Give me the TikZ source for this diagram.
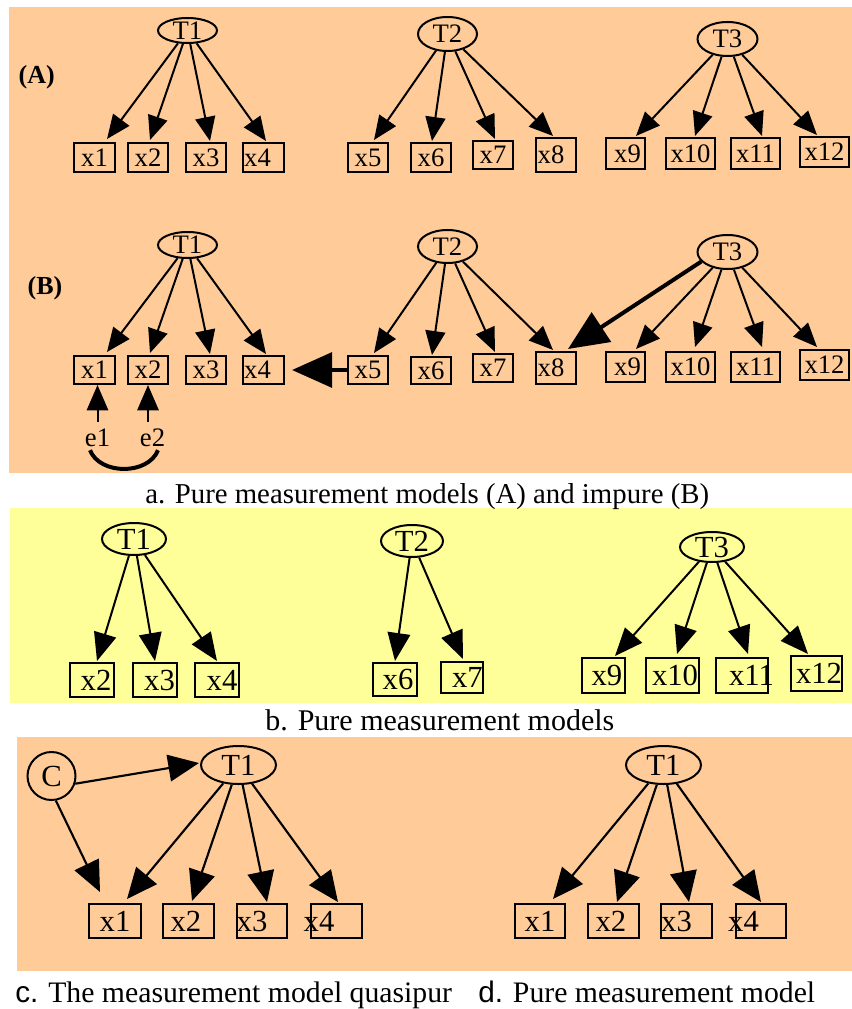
\documentclass[tikz,border=0pt]{standalone}
\usepackage{fontspec}
\setmainfont{Liberation Serif}
\newfontfamily\arialf{Liberation Sans}
\usetikzlibrary{arrows.meta,shapes.geometric,calc}
\newcommand\sh[2]{\makebox[0pt]{\kern#1\relax#2\kern-#1\relax}}
\definecolor{panelorange}{RGB}{255,204,153}
\definecolor{panelyellow}{RGB}{255,255,153}
\begin{document}
\begin{tikzpicture}[x=0.75pt,y=-0.75pt,
  lat/.style 2 args={draw, ellipse, line width=1.5pt, inner sep=0pt, minimum width=#1*0.75pt, minimum height=#2*0.75pt},
  obsbox/.style 2 args={draw, rectangle, line width=1.5pt, inner sep=0pt, minimum width=#1*0.75pt, minimum height=#2*0.75pt},
  fA/.style={font=\fontsize{20}{22}\selectfont},
  fB/.style={font=\fontsize{23}{25}\selectfont},
  fC/.style={font=\fontsize{23}{25}\selectfont},
  tagtext/.style={font=\fontsize{19.5}{20}\selectfont\bfseries, inner sep=0pt},
  captext/.style={anchor=base west, inner sep=0pt},
  arrA/.style={line width=1.5pt, -{Triangle[length=18pt,width=15pt]}},
  arrB/.style={line width=1.5pt, -{Triangle[length=21pt,width=17pt]}},
  arrC/.style={line width=1.6pt, -{Triangle[length=23pt,width=20pt]}},
  arrE/.style={line width=1.5pt, -{Triangle[length=19pt,width=16pt]}},
  arrT/.style={line width=3pt, -{Triangle[length=30pt,width=26pt]}},
]
\useasboundingbox (0,0) rectangle (852,1009);
\fill[panelorange] (9,7) rectangle (852,473);
\fill[panelyellow] (10,508) rectangle (852,703);
\fill[panelorange] (17,737) rectangle (852,971);

% ---------- Panel a, row A ----------
\begin{scope}[every node/.append style={fA}]
\node[tagtext] (tA) at (36.7,77) {(A)};
\node[lat={59}{25}] (T1a) at (187.5,30.5) {T1};
\node[lat={59}{34}] (T2a) at (447.5,34) {T2};
\node[lat={60}{34}] (T3a) at (727.5,39) {T3};
\node[obsbox={41}{29}] (x1a) at (94.5,157.5) {x1};
\node[obsbox={40}{29}] (x2a) at (148,157.5) {x2};
\node[obsbox={40}{29}] (x3a) at (206,157.5) {x3};
\node[obsbox={41}{29}] (x4a) at (263.5,157.5) {\sh{-4.5pt}{x4}};
\node[obsbox={40}{29}] (x5a) at (368,157.5) {x5};
\node[obsbox={40}{29}] (x6a) at (431,157.5) {x6};
\node[obsbox={40}{28}] (x7a) at (493,155) {x7};
\node[obsbox={40}{34}] (x8a) at (556,155) {\sh{-3.75pt}{x8}};
\node[obsbox={39}{31}] (x9a) at (625.5,153.5) {\sh{1.5pt}{x9}};
\node[obsbox={49}{31}] (x10a) at (690.5,153.5) {x10};
\node[obsbox={49}{31}] (x11a) at (755.5,153.5) {x11};
\node[obsbox={49}{30}] (x12a) at (824.5,152) {x12};
\end{scope}
\draw[arrA] (T1a) -- ($(x1a.north)+(12.5,-3)$);
\draw[arrA] (T1a) -- ($(x2a.north)+(2,-2)$);
\draw[arrA] (T1a) -- ($(x3a.north)+(4,-1)$);
\draw[arrA] (T1a) -- ($(x4a.north)+(2.5,-1)$);
\draw[arrA] (T2a) -- ($(x5a.north)+(6,-2)$);
\draw[arrA] (T2a) -- ($(x6a.north)+(1,-1)$);
\draw[arrA] (T2a) -- ($(x7a.north)+(2,-1)$);
\draw[arrA] (T2a) -- ($(x8a.north)+(-3,-1)$);
\draw[arrA] (T3a) -- ($(x9a.north)+(10.5,-1)$);
\draw[arrA] (T3a) -- ($(x10a.north)+(4.5,-1)$);
\draw[arrA] (T3a) -- ($(x11a.north)+(6.5,-1)$);
\draw[arrA] (T3a) -- ($(x12a.north)+(-7.5,-1)$);

% ---------- Panel a, row B ----------
\begin{scope}[every node/.append style={fA}]
\node[tagtext] (tB) at (45,288) {(B)};
\node[lat={59}{26}] (T1b) at (187.5,245) {T1};
\node[lat={59}{33}] (T2b) at (447.5,246.5) {T2};
\node[lat={60}{34}] (T3b) at (727.5,252) {T3};
\node[obsbox={41}{28}] (x1b) at (94.5,370) {x1};
\node[obsbox={40}{28}] (x2b) at (148,370) {x2};
\node[obsbox={40}{28}] (x3b) at (206,370) {x3};
\node[obsbox={41}{28}] (x4b) at (263.5,370) {\sh{-4.5pt}{x4}};
\node[obsbox={40}{28}] (x5b) at (368,370) {x5};
\node[obsbox={40}{27}] (x6b) at (431,370.5) {x6};
\node[obsbox={40}{28}] (x7b) at (493,368) {x7};
\node[obsbox={40}{32}] (x8b) at (556,368) {\sh{-3.75pt}{x8}};
\node[obsbox={39}{30}] (x9b) at (625.5,367) {\sh{1.5pt}{x9}};
\node[obsbox={49}{30}] (x10b) at (690.5,367) {x10};
\node[obsbox={49}{30}] (x11b) at (755.5,367) {x11};
\node[obsbox={49}{30}] (x12b) at (824.5,365) {x12};
\node[inner sep=0pt] (e1) at (97.5,438) {e1};
\node[inner sep=0pt] (e2) at (152.5,438) {e2};
\end{scope}
\draw[arrA] (T1b) -- ($(x1b.north)+(12.5,-3)$);
\draw[arrA] (T1b) -- ($(x2b.north)+(2,-2)$);
\draw[arrA] (T1b) -- ($(x3b.north)+(4,-1)$);
\draw[arrA] (T1b) -- ($(x4b.north)+(2.5,-1)$);
\draw[arrA] (T2b) -- ($(x5b.north)+(6,-2)$);
\draw[arrA] (T2b) -- ($(x6b.north)+(1,-1)$);
\draw[arrA] (T2b) -- ($(x7b.north)+(2,-1)$);
\draw[arrA] (T2b) -- ($(x8b.north)+(-3,-1)$);
\draw[arrT] (T3b.200) -- ($(x8b.north)+(12,-2)$);
\draw[arrA] (T3b) -- ($(x9b.north)+(10.5,-2)$);
\draw[arrA] (T3b) -- ($(x10b.north)+(4.5,-4)$);
\draw[arrA] (T3b) -- ($(x11b.north)+(6.5,-4)$);
\draw[arrA] (T3b) -- ($(x12b.north)+(-7.5,-2)$);
\draw[arrT] (x5b.west) -- ($(x4b.east)+(7,0)$);
\draw[arrE] ($(e1.north)+(0,-7)$) -- ($(x1b.south)+(3,0)$);
\draw[arrE] ($(e2.north)+(-4.5,-7)$) -- (x2b.south);
\draw[line width=3pt] ($(e1.south)+(-7.5,3)$) .. controls +(10,25) and +(-10,25) .. ($(e2.south)+(5.5,3)$);

\node[captext, font=\fontsize{21.6}{24}\selectfont] (capa) at (145,503) {a. Pure measurement models (A) and impure (B)};

% ---------- Panel b ----------
\begin{scope}[every node/.append style={fB}]
\node[lat={64}{32}] (T1p) at (134,539) {T1};
\node[lat={62}{32}] (T2p) at (412,541) {T2};
\node[lat={64}{30}] (T3p) at (712,547) {T3};
\node[obsbox={44}{34}] (x2p) at (92,680) {\sh{3pt}{x2}};
\node[obsbox={44}{34}] (x3p) at (155,680) {\sh{3.4pt}{x3}};
\node[obsbox={44}{34}] (x4p) at (217,680) {\sh{3.75pt}{x4}};
\node[obsbox={44}{33}] (x6p) at (395,679.5) {\sh{2.25pt}{x6}};
\node[obsbox={42}{31}] (x7p) at (462,677.5) {\sh{4.1pt}{x7}};
\node[obsbox={43}{35}] (x9p) at (603.5,675.5) {\sh{2.6pt}{x9}};
\node[obsbox={53}{35}] (x10p) at (672.5,675.5) {\sh{1.9pt}{x10}};
\node[obsbox={52}{35}] (x11p) at (742,675.5) {\sh{7.1pt}{x11}};
\node[obsbox={51}{35}] (x12p) at (816.5,673.5) {\sh{1.9pt}{x12}};
\end{scope}
\draw[arrB] (T1p) -- ($(x2p.north)+(5,-1)$);
\draw[arrB] (T1p) -- ($(x3p.north)+(0,-1)$);
\draw[arrB] (T1p) -- ($(x4p.north)+(0,-1)$);
\draw[arrB] (T2p) -- ($(x6p.north)+(0,-1)$);
\draw[arrB] (T2p) -- ($(x7p.north)+(1,-2)$);
\draw[arrB] (T3p) -- ($(x9p.north)+(11.5,-1)$);
\draw[arrB] (T3p) -- ($(x10p.north)+(4.5,-3)$);
\draw[arrB] (T3p) -- ($(x11p.north)+(6,-3)$);
\draw[arrB] (T3p) -- ($(x12p.north)+(-8.5,-1)$);

\node[captext, font=\fontsize{22.5}{24}\selectfont] (capb) at (265,730) {b. Pure measurement models};

% ---------- Panels c and d ----------
\begin{scope}[every node/.append style={fC}]
\node[lat={48}{48}] (C) at (51.5,776) {C};
\node[lat={75}{38}] (T1c) at (238.5,765) {T1};
\node[obsbox={52}{34}] (x1c) at (115,921) {x1};
\node[obsbox={51}{34}] (x2c) at (188.5,921) {\sh{-1.9pt}{x2}};
\node[obsbox={50}{34}] (x3c) at (262,921) {\sh{-7.5pt}{x3}};
\node[obsbox={51}{34}] (x4c) at (336.5,921) {\sh{-13.1pt}{x4}};
\node[lat={75}{38}] (T1d) at (663.5,765) {T1};
\node[obsbox={50}{34}] (x1d) at (540,921) {x1};
\node[obsbox={51}{34}] (x2d) at (613.5,921) {\sh{-1.9pt}{x2}};
\node[obsbox={51}{34}] (x3d) at (686.5,921) {\sh{-7.5pt}{x3}};
\node[obsbox={50}{34}] (x4d) at (761,921) {\sh{-13.1pt}{x4}};
\end{scope}
\draw[arrC] (C.-18) -- ($(T1c.west)+(-1,-2)$);
\draw[arrC] (C.-80) -- ($(x1c.north)+(-15,-11)$);
\draw[arrC] (T1c) -- ($(x1c.north)+(12,-4)$);
\draw[arrC] (T1c) -- ($(x2c.north)+(3.5,-2)$);
\draw[arrC] (T1c) -- ($(x3c.north)+(5,-1)$);
\draw[arrC] (T1c) -- ($(x4c.north)+(1.5,-1)$);
\draw[arrC] (T1d) -- ($(x1d.north)+(13,-4)$);
\draw[arrC] (T1d) -- ($(x2d.north)+(3.5,-1)$);
\draw[arrC] (T1d) -- ($(x3d.north)+(2.5,-1)$);
\draw[arrC] (T1d) -- ($(x4d.north)+(0,-1)$);

\node[captext, font=\fontsize{22.3}{24}\selectfont] (capc) at (15,1002) {{\arialf c.} The measurement model quasipur};
\node[captext, font=\fontsize{22.3}{24}\selectfont] (capd) at (478,1002) {{\arialf d.} Pure measurement model};
\end{tikzpicture}
\end{document}
